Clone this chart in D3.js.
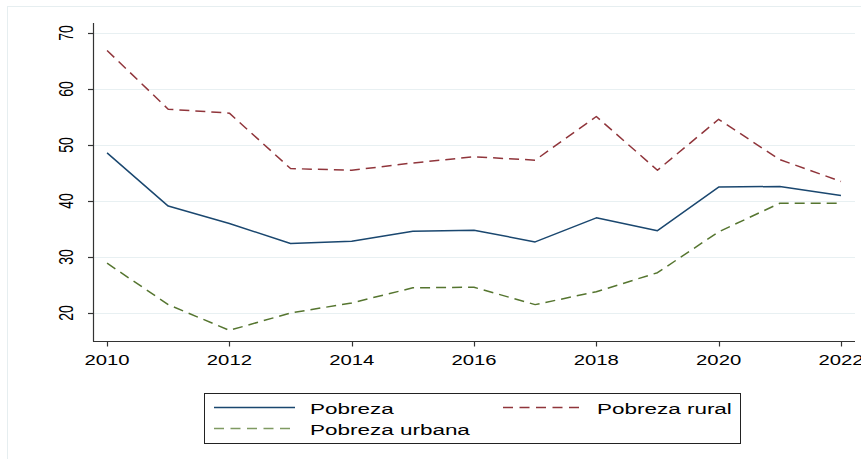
<!DOCTYPE html>
<html>
<head>
<meta charset="utf-8">
<script src="https://cdn.jsdelivr.net/npm/d3@7"></script>
<style>
  html, body { margin: 0; padding: 0; background: #ffffff; }
  svg { display: block; font-family: "Liberation Sans", Arial, sans-serif; }
</style>
</head>
<body>
<svg id="chart" width="861" height="459"></svg>
<script>
// ---- data ----
const years = [2010, 2011, 2012, 2013, 2014, 2015, 2016, 2017, 2018, 2019, 2020, 2021, 2022];
const pobreza = [48.6, 39.1, 36.0, 32.4, 32.8, 34.6, 34.8, 32.7, 37.0, 34.7, 42.5, 42.6, 41.0];
const pobrezaRural = [66.9, 56.4, 55.7, 45.8, 45.5, 46.8, 47.9, 47.3, 55.1, 45.5, 54.6, 47.4, 43.5];
const pobrezaUrbana = [28.9, 21.5, 16.9, 20.0, 21.8, 24.5, 24.6, 21.5, 23.8, 27.2, 34.5, 39.6, 39.6];
const xTicks = [2010, 2012, 2014, 2016, 2018, 2020, 2022];
const yTicks = [20, 30, 40, 50, 60, 70];
const seriesNames = ["Pobreza", "Pobreza rural", "Pobreza urbana"];

const colors = { "Pobreza": "#1a476f", "Pobreza rural": "#90353b", "Pobreza urbana": "#55752f" };
const legendColors = { "Pobreza": "#1a476f", "Pobreza rural": "#90353b", "Pobreza urbana": "#7f9a62" };
const dashes = { "Pobreza": null, "Pobreza rural": "10,6", "Pobreza urbana": "10,6" };

const svg = d3.select("#chart");

// outer frame
svg.append("rect").attr("x", 7.5).attr("y", 6.5).attr("width", 900).attr("height", 500)
  .attr("fill", "none").attr("stroke", "#e6eef0").attr("stroke-width", 1);

const x = d3.scaleLinear().domain([2009.77, 2022.23]).range([93, 855]);
const y = d3.scaleLinear().domain([15, 71.8]).range([341, 23]);
const SX = 1.45; // horizontal stretch of text

// gridlines
svg.append("g").selectAll("line").data(yTicks).join("line")
  .attr("x1", x.range()[0] + 1).attr("x2", x.range()[1])
  .attr("y1", d => Math.round(y(d)) + 0.5).attr("y2", d => Math.round(y(d)) + 0.5)
  .attr("stroke", "#e8f0f2").attr("stroke-width", 1.2);

// axes lines
svg.append("line").attr("x1", 93.5).attr("x2", 93.5).attr("y1", y.range()[1]).attr("y2", y.range()[0] + 0.5)
  .attr("stroke", "#333").attr("stroke-width", 1.2);
svg.append("line").attr("x1", 93).attr("x2", x.range()[1]).attr("y1", 341.5).attr("y2", 341.5)
  .attr("stroke", "#333").attr("stroke-width", 1.2);

// y ticks + labels
const yg = svg.append("g");
yg.selectAll("line").data(yTicks).join("line")
  .attr("x1", 88).attr("x2", 93).attr("y1", d => Math.round(y(d)) + 0.5).attr("y2", d => Math.round(y(d)) + 0.5)
  .attr("stroke", "#333").attr("stroke-width", 1.2);
yg.selectAll("text").data(yTicks).join("text")
  .attr("transform", d => `translate(72.5,${y(d)}) scale(${SX},1) rotate(-90)`)
  .attr("text-anchor", "middle").attr("font-size", 14).attr("fill", "#000")
  .text(d => d);

// x ticks + labels
const xg = svg.append("g");
xg.selectAll("line").data(xTicks).join("line")
  .attr("x1", d => Math.round(x(d)) + 0.5).attr("x2", d => Math.round(x(d)) + 0.5)
  .attr("y1", 341).attr("y2", 346.5)
  .attr("stroke", "#333").attr("stroke-width", 1.2);
xg.selectAll("text").data(xTicks).join("text")
  .attr("transform", d => `translate(${x(d)},365) scale(${SX},1)`)
  .attr("text-anchor", "middle").attr("font-size", 14).attr("fill", "#000")
  .text(d => d);

// lines
const data = {
  "Pobreza": pobreza,
  "Pobreza rural": pobrezaRural,
  "Pobreza urbana": pobrezaUrbana
};
const line = d3.line().x((d, i) => x(years[i])).y(d => y(d));
["Pobreza urbana", "Pobreza rural", "Pobreza"].forEach(name => {
  svg.append("path").datum(data[name])
    .attr("d", line)
    .attr("fill", "none")
    .attr("stroke", colors[name])
    .attr("stroke-width", 1.5)
    .attr("stroke-linejoin", "round")
    .attr("stroke-dasharray", dashes[name]);
});

// legend
const lg = svg.append("g");
lg.append("rect").attr("x", 204.5).attr("y", 393.5).attr("width", 536).attr("height", 50)
  .attr("fill", "#fff").attr("stroke", "#222").attr("stroke-width", 1);
const legendItems = [
  { name: seriesNames[0], lx: 214, ly: 407.5, tx: 310, ty: 413.5 },
  { name: seriesNames[1], lx: 503, ly: 407.5, tx: 597, ty: 413.5 },
  { name: seriesNames[2], lx: 214, ly: 428.5, tx: 310, ty: 434.5 }
];
legendItems.forEach(it => {
  lg.append("line").attr("x1", it.lx).attr("x2", it.lx + 81).attr("y1", it.ly).attr("y2", it.ly)
    .attr("stroke", legendColors[it.name]).attr("stroke-width", 1.5)
    .attr("stroke-dasharray", dashes[it.name] ? "10,6.5" : null);
  lg.append("text").attr("transform", `translate(${it.tx},${it.ty}) scale(${SX},1)`)
    .attr("font-size", 15.5).attr("fill", "#000").text(it.name);
});
</script>
</body>
</html>
